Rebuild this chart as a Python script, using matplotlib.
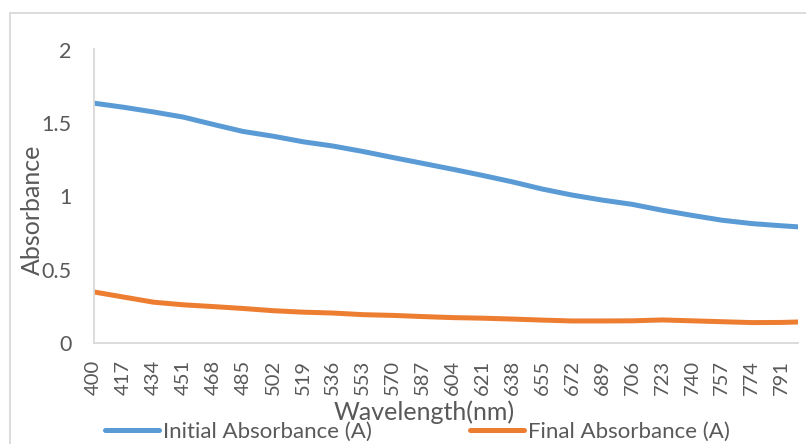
import matplotlib.pyplot as plt
from matplotlib.patches import Rectangle

# wavelengths (nm) read at the labelled categories, plus the last point
wavelength = [400, 417, 434, 451, 468, 485, 502, 519, 536, 553, 570, 587, 604,
              621, 638, 655, 672, 689, 706, 723, 740, 757, 774, 791, 800]
initial_abs = [1.635, 1.607, 1.575, 1.54, 1.49, 1.442, 1.41, 1.372, 1.343, 1.306,
               1.265, 1.225, 1.185, 1.143, 1.099, 1.05, 1.009, 0.975, 0.946, 0.906,
               0.871, 0.838, 0.815, 0.80, 0.793]
final_abs = [0.35, 0.315, 0.28, 0.262, 0.25, 0.237, 0.222, 0.212, 0.206, 0.195,
             0.19, 0.182, 0.175, 0.171, 0.165, 0.158, 0.152, 0.152, 0.153, 0.159,
             0.153, 0.147, 0.141, 0.142, 0.145]
tick_labels = [str(w) for w in wavelength[:-1]]
y_ticks = [0, 0.5, 1, 1.5, 2]

text_col = '#595959'
plt.rcParams['font.family'] = ['Lato', 'DejaVu Sans']

W, H = 806, 444
fig = plt.figure(figsize=(W / 100, H / 100), dpi=100)
ax = fig.add_axes([93.5 / W, 1 - 343.3 / H, (797.5 - 93.5) / W, (343.3 - 49.5) / H])

ax.plot(wavelength, initial_abs, color='#5B9BD5', lw=3.6, solid_capstyle='round',
        label='Initial Absorbance (A)')
ax.plot(wavelength, final_abs, color='#ED7D31', lw=3.6, solid_capstyle='round',
        label='Final Absorbance (A)')

ax.set_xlim(400, 800)
ax.set_ylim(0, 2)
ax.set_xticks(wavelength[:-1])
ax.set_xticklabels(tick_labels, rotation=90)
ax.set_yticks(y_ticks)
ax.set_yticklabels(['0', '0.5', '1', '1.5', '2'])
ax.tick_params(axis='both', length=0, labelsize=15.5, colors=text_col)
ax.tick_params(axis='x', labelsize=14.5, pad=12)
ax.tick_params(axis='y', pad=16)

for s in ['top', 'right']:
    ax.spines[s].set_visible(False)
for s in ['left', 'bottom']:
    ax.spines[s].set_color('#D9D9D9')
    ax.spines[s].set_linewidth(1.3)

ax.set_ylabel('Absorbance', fontsize=18, color=text_col)
ax.set_xlabel('Wavelength(nm)', fontsize=18, color=text_col)
ax.yaxis.set_label_coords(-0.070, 0.454)
ax.xaxis.set_label_coords(0.469, -0.194)

fig.legend(loc='center', bbox_to_anchor=(0.518, 0.027), ncol=2, frameon=False,
           fontsize=16, handlelength=2.45, columnspacing=4.4, handletextpad=0.18,
           labelcolor=text_col)

fig.patches.append(Rectangle((9.5 / W, -0.1), 2, (H - 13.5) / H + 0.1,
                             transform=fig.transFigure, fill=False,
                             ec='#D9D9D9', lw=1.3))

fig.savefig('out.png', dpi=100)
